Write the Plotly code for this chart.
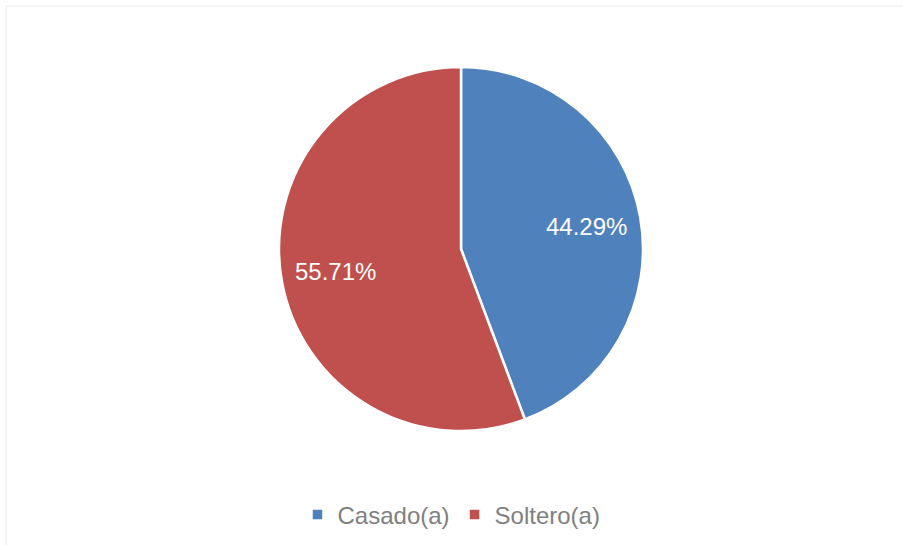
import math
import plotly.graph_objects as go

labels = ["Casado(a)", "Soltero(a)"]
values = [44.29, 55.71]
colors = ["#4F81BD", "#C0504D"]

W, H = 903, 545
# pie geometry (pixels)
CX, CY, R = 461, 249, 182
LABEL_R = 0.70

fig = go.Figure(go.Pie(
    labels=labels,
    values=values,
    sort=False,
    direction="clockwise",
    rotation=0,
    marker=dict(colors=colors, line=dict(color="white", width=2.5)),
    textinfo="none",
    hoverinfo="label+percent",
    domain=dict(x=[(CX - R) / W, (CX + R) / W], y=[(H - CY - R) / H, (H - CY + R) / H]),
    showlegend=True,
))

# data labels placed at slice mid-angles, computed from the values
total = sum(values)
annotations = []
cum = 0.0
for v in values:
    mid = (cum + v / 2) / total * 2 * math.pi
    cum += v
    px = CX + LABEL_R * R * math.sin(mid)
    py = CY - LABEL_R * R * math.cos(mid)
    annotations.append(dict(
        x=px / W, y=1 - py / H, xref="paper", yref="paper",
        text=f"{v / total * 100:.2f}%", showarrow=False,
        xanchor="center", yanchor="middle",
        font=dict(color="white", size=24, family="Liberation Sans, Arial"),
    ))

fig.update_layout(
    width=W, height=H,
    margin=dict(l=0, r=0, t=0, b=0),
    paper_bgcolor="white",
    plot_bgcolor="white",
    font=dict(family="Liberation Sans, Arial"),
    annotations=annotations,
    legend=dict(
        orientation="h",
        x=0.5, xanchor="center",
        y=(H - 515) / H, yanchor="middle",
        font=dict(color="#808080", size=24),
        itemwidth=30,
    ),
    shapes=[dict(
        type="rect", xref="paper", yref="paper",
        x0=6 / W, x1=1.02, y0=-0.02, y1=1 - 6 / H,
        line=dict(color="#EBEBEB", width=1),
    )],
)

fig.write_html("out.html")
